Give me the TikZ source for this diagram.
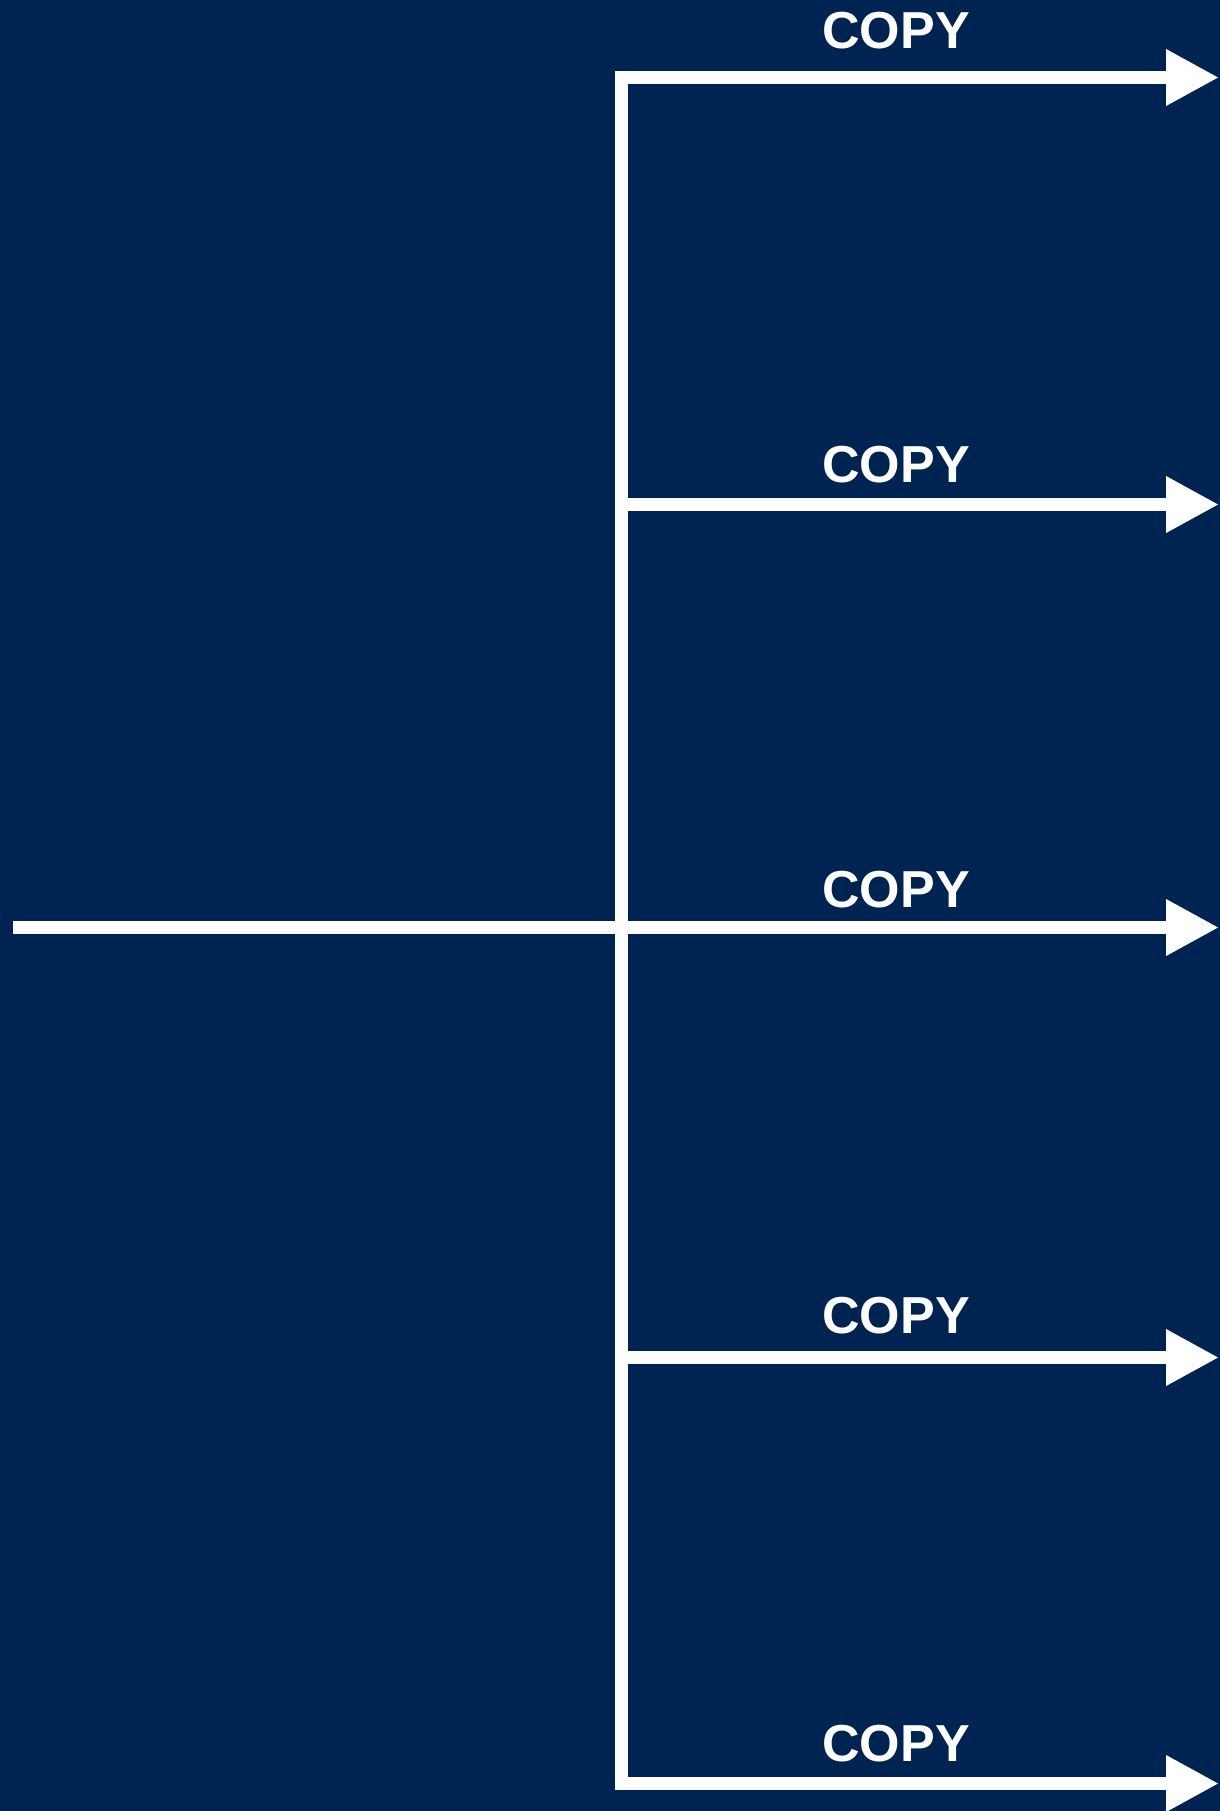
\documentclass[tikz,border=0pt]{standalone}
\usepackage{fontspec}
\setmainfont{Liberation Sans}
\usetikzlibrary{arrows.meta}
\definecolor{navybg}{RGB}{0,36,81}
\tikzset{
  wire/.style={draw=white, line width=6.5pt},
  copyarrow/.style={wire, -{Triangle[length=26.5pt,width=26.5pt]}},
  copylabel/.style={text=white, font=\fontsize{26}{30}\selectfont\bfseries, anchor=base, inner sep=0pt},
}

\begin{document}
\begin{tikzpicture}[x=0.5pt,y=-0.5pt]
% 背景
\fill[navybg] (0,0) rectangle (1220,1811);
\useasboundingbox (0,0) rectangle (1220,1811);

% 分岐点(座標配置)
\coordinate (src) at (13,927.5);
\coordinate (hub) at (621,927.5);
\coordinate (b1) at (621,77.5);
\coordinate (b2) at (621,504.5);
\coordinate (b4) at (621,1357.5);
\coordinate (b5) at (621,1783.5);
\coordinate (o1) at (1219,77.5);
\coordinate (o2) at (1219,504.5);
\coordinate (o3) at (1219,927.5);
\coordinate (o4) at (1219,1357.5);
\coordinate (o5) at (1219,1783.5);

% 入力と幹線
\draw[wire] (src) -- (hub);
\draw[wire, line cap=rect] (b1) -- (b5);

% 矢印
\draw[copyarrow] (b1) -- (o1);
\draw[copyarrow] (b2) -- (o2);
\draw[copyarrow] (hub) -- (o3);
\draw[copyarrow] (b4) -- (o4);
\draw[copyarrow] (b5) -- (o5);

% ラベル
\node[copylabel] (copy1) at (896,48) {COPY};
\node[copylabel] (copy2) at (896,482) {COPY};
\node[copylabel] (copy3) at (896,907) {COPY};
\node[copylabel] (copy4) at (896,1333) {COPY};
\node[copylabel] (copy5) at (896,1761) {COPY};
\end{tikzpicture}
\end{document}
